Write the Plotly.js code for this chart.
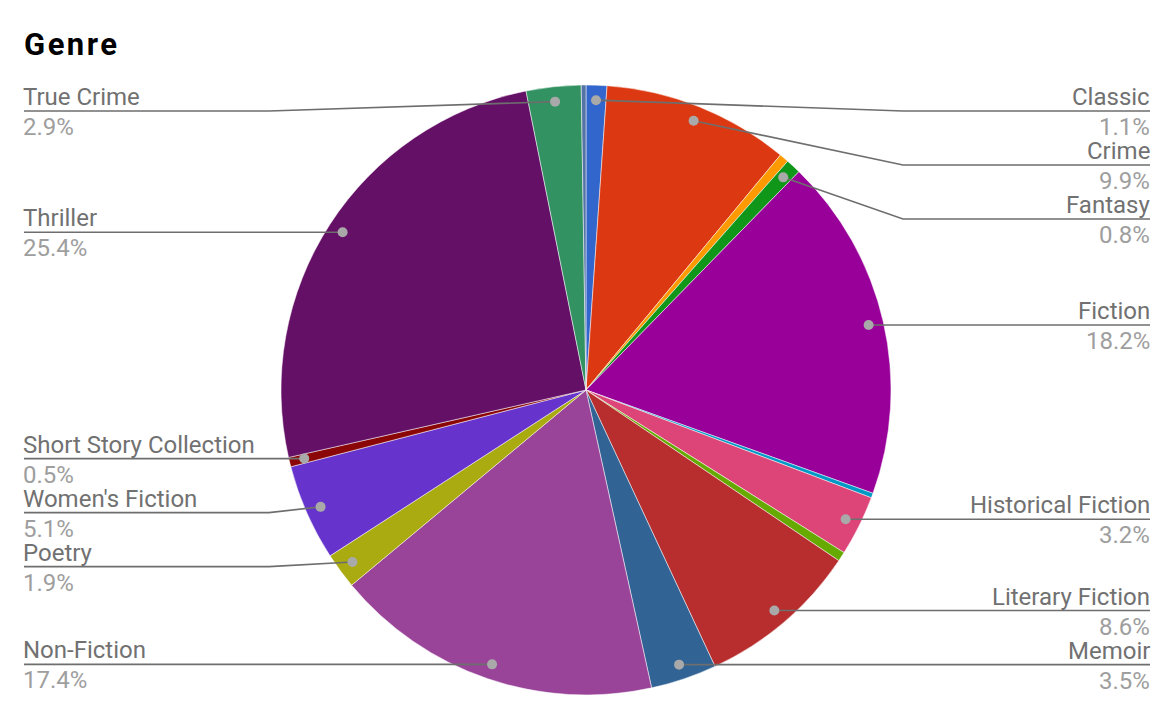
<!DOCTYPE html>
<html><head><meta charset="utf-8">
<script src="https://cdn.plot.ly/plotly-3.0.1.min.js"></script>
<style>html,body{margin:0;padding:0;background:#fff;} .gtitle{letter-spacing:2.5px;}</style>
</head><body>
<div id="chart" style="width:1174px;height:718px;"></div>
<script>
// ---- data ----
const genres = ['Classic','Crime','Dystopian','Fantasy','Fiction','Graphic Novel','Historical Fiction','Horror','Literary Fiction','Memoir','Non-Fiction','Poetry',"Women's Fiction",'Short Story Collection','Thriller','True Crime','Young Adult'];
const shares = [1.1, 9.9, 0.5, 0.8, 18.2, 0.25, 3.2, 0.5, 8.6, 3.5, 17.4, 1.9, 5.1, 0.5, 25.4, 2.9, 0.25];
const labelled = [true,true,false,true,true,false,true,false,true,true,true,true,true,true,true,true,false];
const sliceColors = ['#3366cc','#dc3912','#ff9900','#109618','#990099','#0099c6','#dd4477','#66aa00','#b82e2e','#316395','#994499','#aaaa11','#6633cc','#8b0707','#651067','#329262','#5574a6'];
const chartTitle = 'Genre';

// ---- geometry (layout) ----
const W = 1174, H = 718;
const CX = 586, CY = 390, R = 305, DOT_R = 290, KINK = 317;
const LEFT_X = 24, RIGHT_X = 1150, GAP = 54, TOP_Y = 111, BOTTOM_Y = 680;

const total = shares.reduce((a, b) => a + b, 0);
let cum = 0;
const items = [];
shares.forEach((v, i) => {
  const mid = (cum + v / 2) / total * 2 * Math.PI;
  cum += v;
  if (!labelled[i]) return;
  items.push({
    i: i,
    side: mid < Math.PI ? 'right' : 'left',
    dx: CX + DOT_R * Math.sin(mid),
    dy: CY - DOT_R * Math.cos(mid),
    pct: (v / total * 100).toFixed(1)
  });
});
['left', 'right'].forEach(side => {
  const arr = items.filter(d => d.side === side).sort((a, b) => a.dy - b.dy);
  let prev = -Infinity;
  arr.forEach(d => { d.ly = Math.max(d.dy, TOP_Y, prev + GAP); prev = d.ly; });
  let next = Infinity;
  for (let k = arr.length - 1; k >= 0; k--) {
    arr[k].ly = Math.min(arr[k].ly, BOTTOM_Y, next - GAP);
    next = arr[k].ly;
  }
});

const shapes = [];
const annotations = [];
items.forEach(d => {
  const right = d.side === 'right';
  const kx = right ? CX + KINK : CX - KINK;
  const ex = right ? RIGHT_X : LEFT_X;
  shapes.push({type: 'path', xref: 'x', yref: 'y', layer: 'above',
    path: `M${d.dx},${d.dy} L${kx},${d.ly} L${ex},${d.ly}`,
    line: {color: '#6e6e6e', width: 1.6}});
  shapes.push({type: 'circle', xref: 'x', yref: 'y', layer: 'above',
    x0: d.dx - 5, x1: d.dx + 5, y0: d.dy - 5, y1: d.dy + 5,
    fillcolor: '#a9a9a9', line: {width: 0}});
  annotations.push({xref: 'x', yref: 'y', x: ex, y: d.ly - 14, xshift: right ? 2 : -3,
    xanchor: right ? 'right' : 'left', yanchor: 'middle', showarrow: false,
    text: genres[d.i], font: {family: 'Roboto', size: 24, color: '#717171'}});
  annotations.push({xref: 'x', yref: 'y', x: ex, y: d.ly + 16, xshift: right ? 2 : -3,
    xanchor: right ? 'right' : 'left', yanchor: 'middle', showarrow: false,
    text: d.pct + '%', font: {family: 'Roboto', size: 24, color: '#9e9e9e'}});
});

const pie = {
  type: 'pie',
  labels: genres,
  values: shares,
  sort: false,
  direction: 'clockwise',
  rotation: 0,
  textinfo: 'none',
  hoverinfo: 'label+percent',
  marker: {colors: sliceColors, line: {color: '#ffffff', width: 0.5}},
  domain: {x: [(CX - R) / W, (CX + R) / W], y: [(H - CY - R) / H, (H - CY + R) / H]}
};

const layout = {
  width: W, height: H,
  margin: {l: 0, r: 0, t: 0, b: 0},
  paper_bgcolor: '#ffffff', plot_bgcolor: 'rgba(0,0,0,0)',
  showlegend: false,
  title: {text: chartTitle, font: {family: 'Roboto', size: 31, weight: 700, color: '#000000'},
    xref: 'container', yref: 'container', x: LEFT_X / W, xanchor: 'left',
    y: 1 - 44 / H, yanchor: 'middle'},
  xaxis: {range: [0, W], visible: false, fixedrange: true, domain: [0, 1]},
  yaxis: {range: [H, 0], visible: false, fixedrange: true, domain: [0, 1]},
  shapes: shapes,
  annotations: annotations
};

Plotly.newPlot('chart', [pie], layout, {displayModeBar: false, staticPlot: true});
</script>
</body></html>
